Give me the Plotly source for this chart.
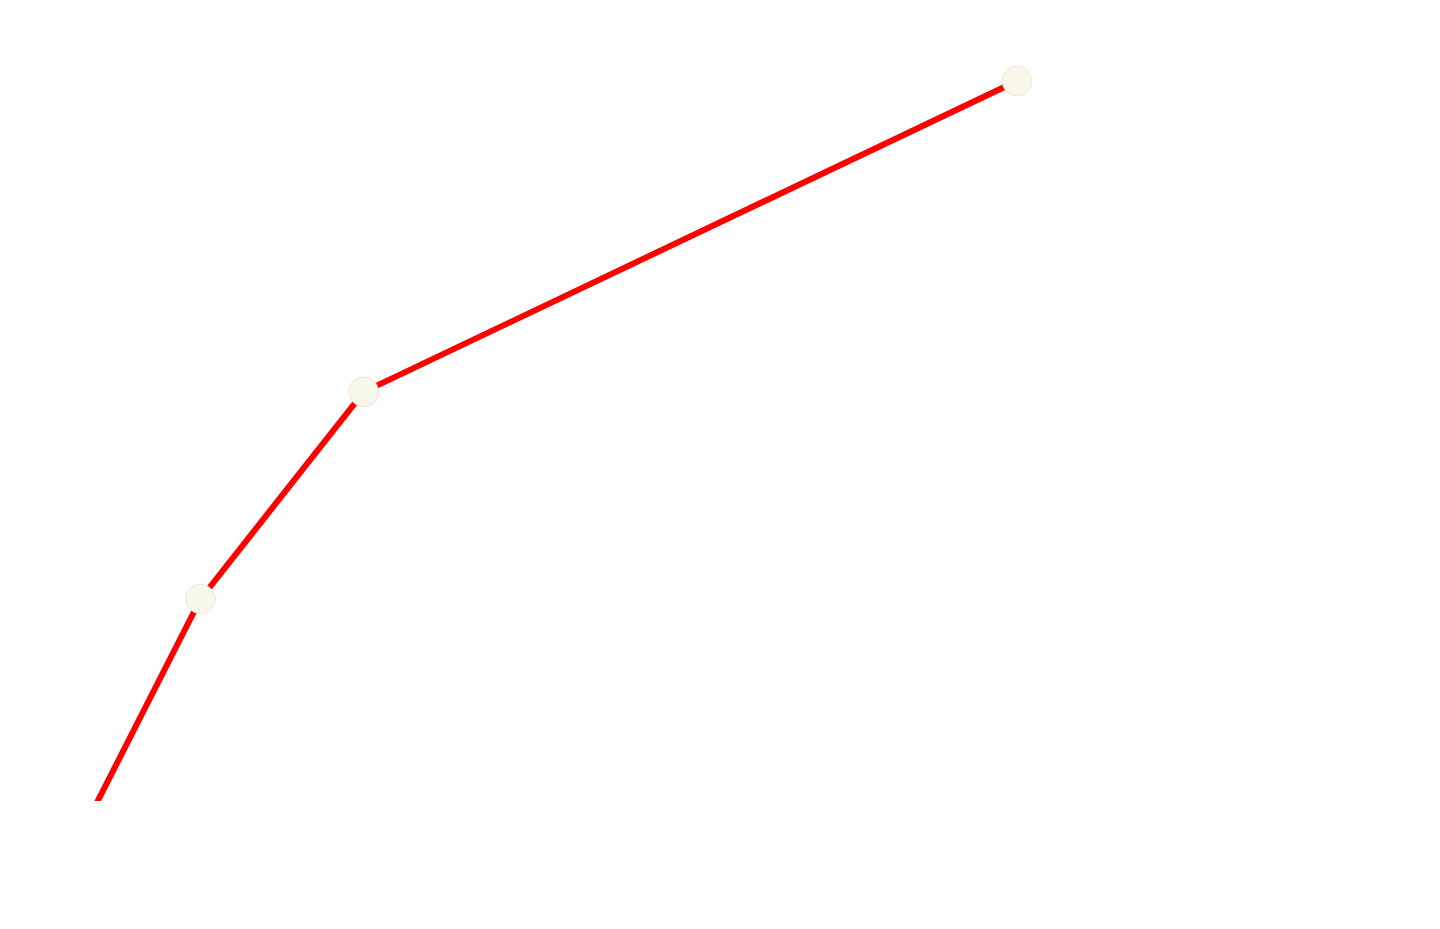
import plotly.graph_objects as go

x_vals = [0, 1, 2, 6]
y_vals = [-1.1, 2, 4, 7]

fig = go.Figure()
fig.add_trace(go.Scatter(
    x=x_vals, y=y_vals, mode="lines+markers",
    line=dict(color="red", width=6),
    marker=dict(size=30, color="#F7F7EA", line=dict(color="rgba(255,150,150,0.5)", width=0.5)),
    showlegend=False,
    cliponaxis=True,
))
fig.update_layout(
    width=1440, height=929,
    margin=dict(l=20, r=20, t=20, b=136),
    paper_bgcolor="white", plot_bgcolor="white",
    xaxis=dict(visible=False, range=[-0.0563, 8.517]),
    yaxis=dict(visible=False, range=[0.05, 7.512]),
)
fig.write_html("out.html")
